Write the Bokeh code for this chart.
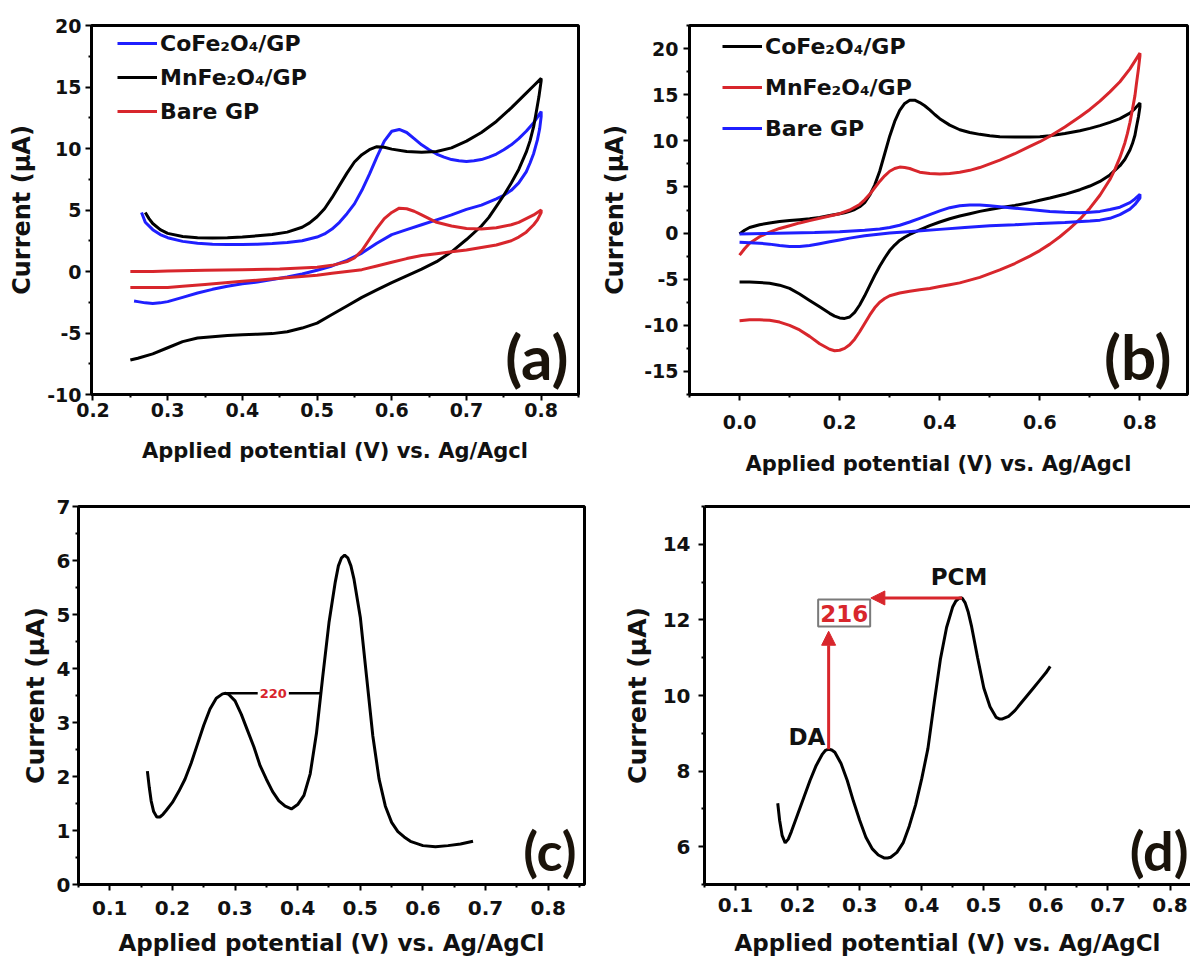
import numpy as np
from bokeh.plotting import figure
from bokeh.layouts import column, row
from bokeh.models import (FixedTicker, PrintfTickFormatter, Legend, LegendItem,
                          Label, Arrow, NormalHead, LinearAxis)
from bokeh.embed import file_html
from bokeh.resources import INLINE

FONT = "DejaVu Sans"
BLUE = "#1f1fff"
RED = "#d8262c"
BLACK = "#000000"

# ---------------- Panel (a) data ----------------
a_co_fwd_x = [0.265,0.27,0.28,0.29,0.30,0.32,0.34,0.36,0.38,0.40,0.42,0.44,0.46,0.48,0.50,0.51,0.52,0.53,0.54,0.55,0.56,0.57,0.58,0.59,0.60,0.61,0.62,0.63,0.64,0.65,0.66,0.67,0.68,0.69,0.70,0.71,0.72,0.73,0.74,0.75,0.76,0.77,0.78,0.79,0.80]
a_co_fwd_y = [4.8,4.0,3.4,3.0,2.75,2.45,2.3,2.22,2.2,2.2,2.22,2.27,2.35,2.5,2.8,3.05,3.45,4.0,4.7,5.5,6.6,7.9,9.3,10.6,11.4,11.55,11.3,10.8,10.3,9.9,9.55,9.3,9.1,9.0,8.95,9.0,9.1,9.3,9.55,9.9,10.3,10.8,11.4,12.1,13.0]
a_co_rev_x = [0.80,0.798,0.795,0.79,0.785,0.78,0.77,0.76,0.75,0.74,0.72,0.70,0.68,0.66,0.64,0.62,0.60,0.58,0.56,0.54,0.52,0.50,0.48,0.46,0.44,0.42,0.40,0.38,0.36,0.34,0.32,0.30,0.29,0.28,0.27,0.26,0.255]
a_co_rev_y = [12.6,11.6,10.7,9.6,8.8,8.1,7.2,6.6,6.2,5.9,5.4,5.05,4.6,4.2,3.8,3.4,3.0,2.3,1.5,0.9,0.45,0.1,-0.2,-0.45,-0.65,-0.85,-1.0,-1.2,-1.45,-1.75,-2.1,-2.45,-2.55,-2.6,-2.55,-2.45,-2.4]

a_mn_fwd_x = [0.27,0.275,0.28,0.29,0.30,0.32,0.34,0.36,0.38,0.40,0.42,0.44,0.46,0.48,0.49,0.50,0.51,0.52,0.53,0.54,0.55,0.56,0.57,0.58,0.59,0.60,0.62,0.64,0.66,0.68,0.70,0.72,0.74,0.76,0.78,0.79,0.80]
a_mn_fwd_y = [4.8,4.3,3.9,3.4,3.1,2.85,2.75,2.72,2.75,2.8,2.9,3.0,3.2,3.6,3.95,4.45,5.1,6.0,7.0,8.0,8.9,9.5,9.9,10.15,10.1,9.95,9.75,9.7,9.75,10.05,10.6,11.3,12.2,13.3,14.5,15.1,15.7]
a_mn_rev_x = [0.80,0.797,0.793,0.79,0.785,0.78,0.77,0.76,0.75,0.74,0.73,0.72,0.70,0.68,0.66,0.64,0.62,0.60,0.58,0.56,0.54,0.52,0.50,0.48,0.46,0.44,0.42,0.40,0.38,0.36,0.34,0.32,0.30,0.28,0.26,0.25]
a_mn_rev_y = [15.5,14.2,12.8,11.8,10.6,9.7,8.3,7.2,6.2,5.3,4.4,3.7,2.6,1.6,0.8,0.2,-0.35,-0.9,-1.5,-2.1,-2.8,-3.5,-4.2,-4.6,-4.9,-5.05,-5.1,-5.15,-5.2,-5.3,-5.4,-5.7,-6.2,-6.7,-7.05,-7.2]

a_bare_fwd_x = [0.25,0.28,0.30,0.35,0.40,0.45,0.50,0.52,0.54,0.55,0.56,0.57,0.58,0.59,0.60,0.61,0.62,0.63,0.64,0.65,0.66,0.68,0.70,0.72,0.74,0.76,0.77,0.78,0.79,0.80]
a_bare_fwd_y = [0.0,0.0,0.05,0.1,0.15,0.2,0.35,0.5,0.8,1.1,1.7,2.6,3.5,4.3,4.8,5.15,5.1,4.9,4.6,4.3,4.0,3.7,3.5,3.45,3.55,3.8,4.0,4.3,4.6,5.0]
a_bare_rev_x = [0.80,0.795,0.79,0.78,0.77,0.76,0.74,0.72,0.70,0.68,0.66,0.64,0.62,0.60,0.58,0.56,0.54,0.52,0.50,0.45,0.40,0.35,0.32,0.30,0.28,0.26,0.25]
a_bare_rev_y = [4.8,4.2,3.8,3.2,2.8,2.5,2.15,1.95,1.75,1.6,1.45,1.3,1.05,0.75,0.45,0.15,0.0,-0.15,-0.3,-0.55,-0.8,-1.05,-1.2,-1.3,-1.3,-1.3,-1.3]

# ---------------- Panel (b) data ----------------
b_co_fwd_x = [0.0,0.01,0.02,0.04,0.06,0.08,0.10,0.12,0.14,0.16,0.18,0.20,0.21,0.22,0.23,0.24,0.25,0.26,0.27,0.28,0.29,0.30,0.31,0.32,0.33,0.34,0.35,0.36,0.37,0.38,0.39,0.40,0.42,0.44,0.46,0.48,0.50,0.52,0.55,0.58,0.60,0.62,0.65,0.68,0.70,0.72,0.74,0.76,0.78,0.79,0.80]
b_co_fwd_y = [-0.1,0.3,0.6,0.9,1.1,1.25,1.35,1.45,1.55,1.7,1.9,2.1,2.2,2.35,2.55,2.85,3.3,4.1,5.2,6.7,8.6,10.5,12.1,13.3,14.05,14.4,14.4,14.15,13.8,13.35,12.85,12.4,11.7,11.2,10.9,10.7,10.55,10.45,10.4,10.4,10.45,10.55,10.8,11.1,11.35,11.65,12.0,12.4,13.0,13.5,14.1]
b_co_rev_x = [0.80,0.797,0.793,0.79,0.785,0.78,0.77,0.76,0.74,0.72,0.70,0.68,0.65,0.62,0.60,0.58,0.55,0.52,0.50,0.48,0.46,0.44,0.42,0.40,0.38,0.36,0.35,0.34,0.33,0.32,0.31,0.30,0.29,0.28,0.27,0.26,0.25,0.24,0.23,0.22,0.21,0.20,0.19,0.18,0.16,0.14,0.12,0.10,0.08,0.06,0.04,0.02,0.0]
b_co_rev_y = [13.7,12.6,11.5,10.6,9.7,9.0,8.0,7.3,6.3,5.6,5.1,4.7,4.2,3.8,3.55,3.3,3.0,2.75,2.55,2.35,2.1,1.85,1.55,1.2,0.8,0.35,0.1,-0.15,-0.45,-0.8,-1.3,-1.9,-2.7,-3.6,-4.6,-5.7,-6.8,-7.8,-8.6,-9.1,-9.25,-9.2,-9.0,-8.7,-8.0,-7.3,-6.6,-6.0,-5.65,-5.45,-5.35,-5.3,-5.3]

b_mn_fwd_x = [0.0,0.01,0.02,0.04,0.06,0.08,0.10,0.12,0.14,0.16,0.18,0.20,0.22,0.24,0.25,0.26,0.27,0.28,0.29,0.30,0.31,0.32,0.33,0.34,0.35,0.36,0.38,0.40,0.42,0.44,0.46,0.48,0.50,0.52,0.55,0.58,0.60,0.62,0.65,0.68,0.70,0.72,0.74,0.76,0.78,0.80]
b_mn_fwd_y = [-2.4,-1.7,-1.1,-0.4,0.1,0.5,0.8,1.1,1.35,1.6,1.85,2.1,2.5,3.1,3.6,4.2,4.9,5.6,6.2,6.7,7.0,7.15,7.1,7.0,6.8,6.6,6.45,6.4,6.45,6.6,6.8,7.1,7.5,7.9,8.6,9.4,9.9,10.5,11.5,12.6,13.4,14.3,15.3,16.4,17.8,19.5]
b_mn_rev_x = [0.80,0.797,0.793,0.79,0.785,0.78,0.775,0.77,0.76,0.75,0.74,0.72,0.70,0.68,0.66,0.64,0.62,0.60,0.58,0.55,0.52,0.50,0.48,0.46,0.44,0.42,0.40,0.38,0.36,0.34,0.32,0.30,0.29,0.28,0.27,0.26,0.25,0.24,0.23,0.22,0.21,0.20,0.19,0.18,0.16,0.14,0.12,0.10,0.08,0.06,0.04,0.02,0.0]
b_mn_rev_y = [19.2,17.8,16.2,14.9,13.4,12.0,10.8,9.8,8.2,6.9,5.8,4.1,2.7,1.5,0.5,-0.4,-1.2,-1.9,-2.5,-3.3,-4.0,-4.4,-4.8,-5.1,-5.4,-5.6,-5.8,-6.0,-6.15,-6.3,-6.5,-6.8,-7.1,-7.5,-8.1,-8.9,-9.8,-10.7,-11.5,-12.1,-12.5,-12.7,-12.75,-12.6,-12.0,-11.2,-10.5,-10.0,-9.65,-9.45,-9.4,-9.4,-9.5]

b_bare_fwd_x = [0.0,0.05,0.10,0.15,0.20,0.25,0.28,0.30,0.32,0.34,0.36,0.38,0.40,0.42,0.44,0.46,0.48,0.50,0.52,0.55,0.58,0.60,0.62,0.65,0.68,0.70,0.72,0.74,0.76,0.78,0.79,0.80]
b_bare_fwd_y = [-0.1,-0.05,0.0,0.05,0.15,0.3,0.45,0.6,0.85,1.2,1.6,2.0,2.4,2.75,2.95,3.05,3.05,2.95,2.85,2.7,2.55,2.45,2.35,2.25,2.2,2.25,2.35,2.55,2.8,3.3,3.7,4.2]
b_bare_rev_x = [0.80,0.79,0.78,0.76,0.74,0.72,0.70,0.65,0.60,0.55,0.50,0.45,0.40,0.35,0.30,0.25,0.22,0.20,0.18,0.16,0.14,0.12,0.10,0.08,0.06,0.04,0.02,0.0]
b_bare_rev_y = [3.8,3.1,2.6,2.0,1.6,1.4,1.3,1.15,1.05,0.9,0.8,0.6,0.4,0.2,0.0,-0.3,-0.55,-0.75,-0.95,-1.15,-1.35,-1.45,-1.45,-1.35,-1.2,-1.1,-1.05,-1.0]

# ---------------- Panel (c) data ----------------
c_x = [0.16,0.163,0.166,0.17,0.175,0.18,0.185,0.19,0.20,0.21,0.22,0.23,0.24,0.25,0.26,0.27,0.28,0.285,0.29,0.30,0.31,0.32,0.33,0.34,0.35,0.36,0.37,0.38,0.39,0.40,0.41,0.42,0.43,0.44,0.45,0.46,0.465,0.47,0.475,0.48,0.485,0.49,0.50,0.51,0.52,0.53,0.54,0.55,0.56,0.57,0.58,0.60,0.62,0.64,0.66,0.68]
c_y = [2.1,1.8,1.55,1.35,1.25,1.25,1.3,1.37,1.52,1.72,1.95,2.25,2.6,2.95,3.25,3.45,3.53,3.54,3.52,3.4,3.15,2.85,2.55,2.2,1.95,1.72,1.55,1.45,1.4,1.48,1.65,2.05,2.8,3.85,4.85,5.6,5.9,6.05,6.1,6.05,5.9,5.65,4.95,3.85,2.75,1.95,1.45,1.15,0.98,0.88,0.8,0.72,0.7,0.72,0.75,0.8]
c_sep_label = "220"

# ---------------- Panel (d) data ----------------
d_x = [0.168,0.171,0.175,0.18,0.185,0.19,0.20,0.21,0.22,0.23,0.24,0.245,0.25,0.255,0.26,0.27,0.28,0.29,0.30,0.31,0.32,0.33,0.34,0.345,0.35,0.36,0.37,0.38,0.39,0.40,0.41,0.42,0.43,0.44,0.45,0.455,0.46,0.465,0.47,0.475,0.48,0.49,0.50,0.51,0.52,0.525,0.53,0.54,0.55,0.56,0.57,0.58,0.59,0.60,0.607]
d_y = [7.15,6.7,6.3,6.1,6.2,6.4,6.85,7.3,7.75,8.15,8.45,8.55,8.58,8.56,8.5,8.2,7.75,7.2,6.7,6.25,5.95,5.78,5.7,5.7,5.72,5.85,6.1,6.55,7.1,7.8,8.6,9.8,10.95,11.8,12.35,12.5,12.57,12.58,12.45,12.2,11.85,11.0,10.2,9.7,9.42,9.38,9.38,9.45,9.6,9.8,10.0,10.2,10.4,10.6,10.77]
d_sep_label = "216"

legend_a = ["CoFe\u2082O\u2084/GP", "MnFe\u2082O\u2084/GP", "Bare GP"]
legend_b = ["CoFe\u2082O\u2084/GP", "MnFe\u2082O\u2084/GP", "Bare GP"]
xlab_ab = "Applied potential (V) vs. Ag/Agcl"
xlab_cd = "Applied potential (V) vs. Ag/AgCl"
ylab = "Current (\u03bcA)"


def make_fig(width, height, bl, br, bt, bb, xr, yr, outline=True):
    p = figure(width=width, height=height, x_range=xr, y_range=yr,
               output_backend="svg", toolbar_location=None,
               min_border_left=bl, min_border_right=br,
               min_border_top=bt, min_border_bottom=bb)
    p.grid.visible = False
    p.background_fill_color = "white"
    p.border_fill_color = "white"
    if outline:
        p.outline_line_color = "black"
        p.outline_line_width = 3
        p.outline_line_alpha = 1.0
    else:
        p.outline_line_color = None
    return p


def style_axes(p, xt, xm, yt, ym, xfmt, yfmt, tick_fs, lab_fs_x, lab_fs_y,
               x_std, y_std, xl_std, yl_std, xlab, ylab_text):
    ax = p.xaxis[0]
    ay = p.yaxis[0]
    ax.ticker = FixedTicker(ticks=xt, minor_ticks=xm)
    ay.ticker = FixedTicker(ticks=yt, minor_ticks=ym)
    ax.formatter = PrintfTickFormatter(format=xfmt)
    ay.formatter = PrintfTickFormatter(format=yfmt)
    for a, std, lstd, fs, lab in ((ax, x_std, xl_std, lab_fs_x, xlab),
                                  (ay, y_std, yl_std, lab_fs_y, ylab_text)):
        a.axis_line_width = 3
        a.axis_line_color = "black"
        a.major_tick_line_width = 2
        a.minor_tick_line_width = 2
        a.major_tick_out = 6
        a.major_tick_in = 0
        a.minor_tick_out = 3
        a.minor_tick_in = 0
        a.major_label_text_font = FONT
        a.major_label_text_font_style = "bold"
        a.major_label_text_font_size = tick_fs
        a.major_label_text_color = "#111111"
        a.major_label_standoff = std
        a.axis_label = lab
        a.axis_label_text_font = FONT
        a.axis_label_text_font_style = "bold"
        a.axis_label_text_font_size = fs
        a.axis_label_text_color = "#111111"
        a.axis_label_standoff = lstd


def add_legend(p, items, loc, spacing, fs):
    lg = Legend(items=items, location=loc, orientation="vertical")
    lg.background_fill_alpha = 0
    lg.border_line_color = None
    lg.padding = 0
    lg.margin = 0
    lg.spacing = spacing
    lg.glyph_width = 40
    lg.glyph_height = 26
    lg.label_height = 26
    lg.label_standoff = 3
    lg.label_text_font = FONT
    lg.label_text_font_style = "bold"
    lg.label_text_font_size = fs
    lg.label_text_color = "#111111"
    p.add_layout(lg)


def panel_label(p, text, xr, yr, dx, dy, fs):
    p.add_layout(Label(x=xr[1], y=yr[0], x_offset=dx, y_offset=dy, text=text,
                       text_align="right", text_baseline="bottom",
                       text_font="Lato", text_font_style="bold",
                       text_font_size=fs, text_color="#1a130a"))


# ---------------- Figure (a) ----------------
xr_a, yr_a = (0.198, 0.85), (-10, 20)
pa = make_fig(598, 478, 91, 20, 25, 81, xr_a, yr_a)
ra1 = pa.line(a_co_fwd_x + a_co_rev_x, a_co_fwd_y + a_co_rev_y, line_color=BLUE, line_width=3)
ra2 = pa.line(a_mn_fwd_x + a_mn_rev_x, a_mn_fwd_y + a_mn_rev_y, line_color=BLACK, line_width=3)
ra3 = pa.line(a_bare_fwd_x + a_bare_rev_x, a_bare_fwd_y + a_bare_rev_y, line_color=RED, line_width=3)
style_axes(pa, [0.2, 0.3, 0.4, 0.5, 0.6, 0.7, 0.8],
           [0.25, 0.35, 0.45, 0.55, 0.65, 0.75, 0.85],
           [-10, -5, 0, 5, 10, 15, 20], [-7.5, -2.5, 2.5, 7.5, 12.5, 17.5],
           "%.1f", "%d", "19px", "21px", "24px", 2, 4, 19, 8, xlab_ab, ylab)
add_legend(pa, [LegendItem(label=legend_a[0], renderers=[ra1]),
                LegendItem(label=legend_a[1], renderers=[ra2]),
                LegendItem(label=legend_a[2], renderers=[ra3])],
           (26, 270), 8, "22px")
panel_label(pa, "(a)", xr_a, yr_a, -10, 2, "62px")

# ---------------- Figure (b) ----------------
xr_b, yr_b = (-0.1, 0.895), (-17.5, 22.5)
pb = make_fig(592, 478, 81, 3, 24, 77, xr_b, yr_b)
rb1 = pb.line(b_co_fwd_x + b_co_rev_x, b_co_fwd_y + b_co_rev_y, line_color=BLACK, line_width=3)
rb2 = pb.line(b_mn_fwd_x + b_mn_rev_x, b_mn_fwd_y + b_mn_rev_y, line_color=RED, line_width=3)
rb3 = pb.line(b_bare_fwd_x + b_bare_rev_x, b_bare_fwd_y + b_bare_rev_y, line_color=BLUE, line_width=3)
style_axes(pb, [0.0, 0.2, 0.4, 0.6, 0.8], [-0.1, 0.1, 0.3, 0.5, 0.7],
           [-15, -10, -5, 0, 5, 10, 15, 20],
           [-17.5, -12.5, -7.5, -2.5, 2.5, 7.5, 12.5, 17.5, 22.5],
           "%.1f", "%d", "19px", "21px", "24px", 14, 5, 20, 12, xlab_ab, ylab)
add_legend(pb, [LegendItem(label=legend_b[0], renderers=[rb1]),
                LegendItem(label=legend_b[1], renderers=[rb2]),
                LegendItem(label=legend_b[2], renderers=[rb3])],
           (33, 253), 15, "22px")
panel_label(pb, "(b)", xr_b, yr_b, -16, 2, "62px")

# ---------------- Figure (c) ----------------
xr_c, yr_c = (0.05, 0.858), (0, 7)
pc = make_fig(598, 480, 78, 14, 28, 69, xr_c, yr_c)
pc.line(c_x, c_y, line_color=BLACK, line_width=3)
style_axes(pc, [0.1, 0.2, 0.3, 0.4, 0.5, 0.6, 0.7, 0.8],
           [0.05, 0.15, 0.25, 0.35, 0.45, 0.55, 0.65, 0.75, 0.85],
           [0, 1, 2, 3, 4, 5, 6, 7], [0.5, 1.5, 2.5, 3.5, 4.5, 5.5, 6.5],
           "%.1f", "%d", "20px", "23px", "25px", 10, 2, 12, 4, xlab_cd, ylab)
cxa = np.array(c_x)
cya = np.array(c_y)
m1 = cxa < 0.35
i1 = int(np.argmax(np.where(m1, cya, -np.inf)))
i2 = int(np.argmax(cya))
seg_x = cxa[i1 + 10:i2 + 1]
seg_y = cya[i1 + 10:i2 + 1]
x_hit = float(np.interp(cya[i1], seg_y, seg_x))
pc.segment(x0=[cxa[i1]], y0=[cya[i1]], x1=[x_hit], y1=[cya[i1]], line_color=BLACK, line_width=2.5)
pc.add_layout(Label(x=(cxa[i1] + x_hit) / 2, y=cya[i1], text=c_sep_label,
                    text_align="center", text_baseline="middle",
                    text_font=FONT, text_font_style="bold", text_font_size="13px",
                    text_color=RED, background_fill_color="white", padding=2))
panel_label(pc, "(c)", xr_c, yr_c, -8, 2, "54px")

# ---------------- Figure (d) ----------------
xr_d, yr_d = (0.05, 0.833), (5, 15)
pd_ = make_fig(592, 480, 106, 0, 27, 74, xr_d, yr_d, outline=False)
pd_.line(d_x, d_y, line_color=BLACK, line_width=3)
style_axes(pd_, [0.1, 0.2, 0.3, 0.4, 0.5, 0.6, 0.7, 0.8],
           [0.05, 0.15, 0.25, 0.35, 0.45, 0.55, 0.65, 0.75],
           [6, 8, 10, 12, 14], [5, 7, 9, 11, 13, 15],
           "%.1f", "%d", "20px", "23px", "25px", 7, 8, 15, 8, xlab_cd, ylab)
top = LinearAxis(ticker=FixedTicker(ticks=[]), axis_line_width=3,
                 major_tick_line_color=None, minor_tick_line_color=None,
                 major_label_text_font_size="0px")
pd_.add_layout(top, "above")
dxa = np.array(d_x)
dya = np.array(d_y)
j1 = int(np.argmax(np.where(dxa < 0.35, dya, -np.inf)))
j2 = int(np.argmax(dya))
da_x, da_y = float(dxa[j1]), float(dya[j1])
pcm_x, pcm_y = float(dxa[j2]), float(dya[j2])
pd_.add_layout(Arrow(end=NormalHead(size=14, fill_color=RED, line_color=RED),
                     x_start=da_x, y_start=da_y, x_end=da_x, y_end=pcm_y - 0.88,
                     line_color=RED, line_width=3))
pd_.add_layout(Arrow(end=NormalHead(size=14, fill_color=RED, line_color=RED),
                     x_start=pcm_x, y_start=pcm_y, x_end=da_x + 0.068, y_end=pcm_y,
                     line_color=RED, line_width=3))
pd_.add_layout(Label(x=da_x + 0.025, y=pcm_y - 0.4, text=d_sep_label,
                     text_align="center", text_baseline="middle",
                     text_font=FONT, text_font_style="bold", text_font_size="23px",
                     text_color=RED, background_fill_color="white",
                     border_line_color="#7a7a7a", border_line_width=2,
                     padding=dict(left=2, right=2, top=5, bottom=5)))
pd_.add_layout(Label(x=da_x - 0.035, y=da_y + 0.32, text="DA",
                     text_align="center", text_baseline="middle",
                     text_font=FONT, text_font_style="bold", text_font_size="23px",
                     text_color="#111111"))
pd_.add_layout(Label(x=pcm_x - 0.005, y=pcm_y + 0.55, text="PCM",
                     text_align="center", text_baseline="middle",
                     text_font=FONT, text_font_style="bold", text_font_size="23px",
                     text_color="#111111"))
panel_label(pd_, "(d)", xr_d, yr_d, -2, 2, "54px")

layout = column(row(pa, pb), row(pc, pd_))
open("out.html", "w").write(file_html(layout, INLINE))
